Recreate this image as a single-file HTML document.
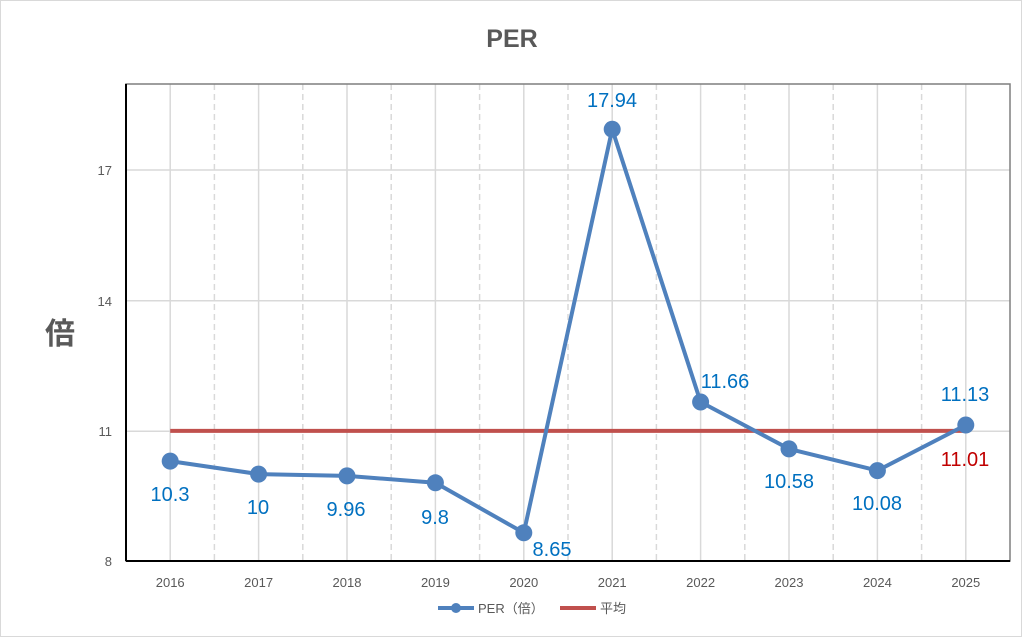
<!DOCTYPE html>
<html><head><meta charset="utf-8"><style>
html,body{margin:0;padding:0;background:#fff;}
svg{display:block;font-family:"Liberation Sans","Noto Sans CJK JP",sans-serif;}
</style></head><body>
<svg width="1024" height="638" viewBox="0 0 1024 638" xmlns="http://www.w3.org/2000/svg">
<rect x="0.5" y="0.5" width="1021" height="636" fill="#fff" stroke="#d9d9d9"/>
<text x="512" y="47" text-anchor="middle" font-size="25" font-weight="bold" fill="#595959">PER</text>
<text x="60" y="344" text-anchor="middle" font-size="30" font-weight="bold" fill="#595959">倍</text>
<g stroke="#d9d9d9" stroke-width="1.5">
<line x1="126" y1="170" x2="1010" y2="170"/>
<line x1="126" y1="300.7" x2="1010" y2="300.7"/>
<line x1="126" y1="431.3" x2="1010" y2="431.3"/>
<line x1="170.2" y1="84" x2="170.2" y2="561"/><line x1="258.6" y1="84" x2="258.6" y2="561"/><line x1="347" y1="84" x2="347" y2="561"/><line x1="435.4" y1="84" x2="435.4" y2="561"/><line x1="523.8" y1="84" x2="523.8" y2="561"/><line x1="612.2" y1="84" x2="612.2" y2="561"/><line x1="700.6" y1="84" x2="700.6" y2="561"/><line x1="789" y1="84" x2="789" y2="561"/><line x1="877.4" y1="84" x2="877.4" y2="561"/><line x1="965.8" y1="84" x2="965.8" y2="561"/>
</g>
<g stroke="#d9d9d9" stroke-width="1.5" stroke-dasharray="6,4">
<line x1="214.4" y1="84" x2="214.4" y2="561"/><line x1="302.8" y1="84" x2="302.8" y2="561"/><line x1="391.2" y1="84" x2="391.2" y2="561"/><line x1="479.6" y1="84" x2="479.6" y2="561"/><line x1="568" y1="84" x2="568" y2="561"/><line x1="656.4" y1="84" x2="656.4" y2="561"/><line x1="744.8" y1="84" x2="744.8" y2="561"/><line x1="833.2" y1="84" x2="833.2" y2="561"/><line x1="921.6" y1="84" x2="921.6" y2="561"/>
</g>
<rect x="126" y="84" width="884" height="477" fill="none" stroke="#7f7f7f" stroke-width="1.5"/>
<line x1="126" y1="84" x2="126" y2="561" stroke="#000" stroke-width="2"/>
<line x1="126" y1="561" x2="1010" y2="561" stroke="#000" stroke-width="2"/>
<g font-size="13" fill="#595959" text-anchor="end">
<text x="112" y="175">17</text><text x="112" y="306">14</text><text x="112" y="436">11</text><text x="112" y="566">8</text>
</g>
<g font-size="13" fill="#595959" text-anchor="middle">
<text x="170.2" y="587">2016</text><text x="258.6" y="587">2017</text><text x="347" y="587">2018</text><text x="435.4" y="587">2019</text><text x="523.8" y="587">2020</text><text x="612.2" y="587">2021</text><text x="700.6" y="587">2022</text><text x="789" y="587">2023</text><text x="877.4" y="587">2024</text><text x="965.8" y="587">2025</text>
</g>
<line x1="170.2" y1="430.9" x2="965.8" y2="430.9" stroke="#c0504d" stroke-width="4"/>
<polyline fill="none" stroke="#4f81bd" stroke-width="4" stroke-linejoin="round" points="170.2,461.1 258.6,474.1 347,475.9 435.4,482.8 523.8,532.8 612.2,129.2 700.6,402 789,448.9 877.4,470.6 965.8,425"/>
<g fill="#4f81bd">
<circle cx="170.2" cy="461.1" r="8.5"/><circle cx="258.6" cy="474.1" r="8.5"/><circle cx="347" cy="475.9" r="8.5"/><circle cx="435.4" cy="482.8" r="8.5"/><circle cx="523.8" cy="532.8" r="8.5"/><circle cx="612.2" cy="129.2" r="8.5"/><circle cx="700.6" cy="402" r="8.5"/><circle cx="789" cy="448.9" r="8.5"/><circle cx="877.4" cy="470.6" r="8.5"/><circle cx="965.8" cy="425" r="8.5"/>
</g>
<g font-size="20" fill="#0070c0" text-anchor="middle">
<text x="170" y="501">10.3</text><text x="258" y="514">10</text><text x="346" y="516">9.96</text><text x="435" y="524">9.8</text><text x="552" y="556">8.65</text><text x="612" y="107">17.94</text><text x="725" y="388">11.66</text><text x="789" y="488">10.58</text><text x="877" y="510">10.08</text><text x="965" y="401">11.13</text>
</g>
<text x="965" y="466" font-size="20" fill="#c00000" text-anchor="middle">11.01</text>
<line x1="438" y1="608" x2="474" y2="608" stroke="#4f81bd" stroke-width="4"/>
<circle cx="456" cy="608" r="5" fill="#4f81bd"/>
<text x="478" y="613" font-size="13" fill="#595959">PER（倍）</text>
<line x1="560" y1="608" x2="596" y2="608" stroke="#c0504d" stroke-width="4"/>
<text x="600" y="613" font-size="13" fill="#595959">平均</text>
</svg>
</body></html>
